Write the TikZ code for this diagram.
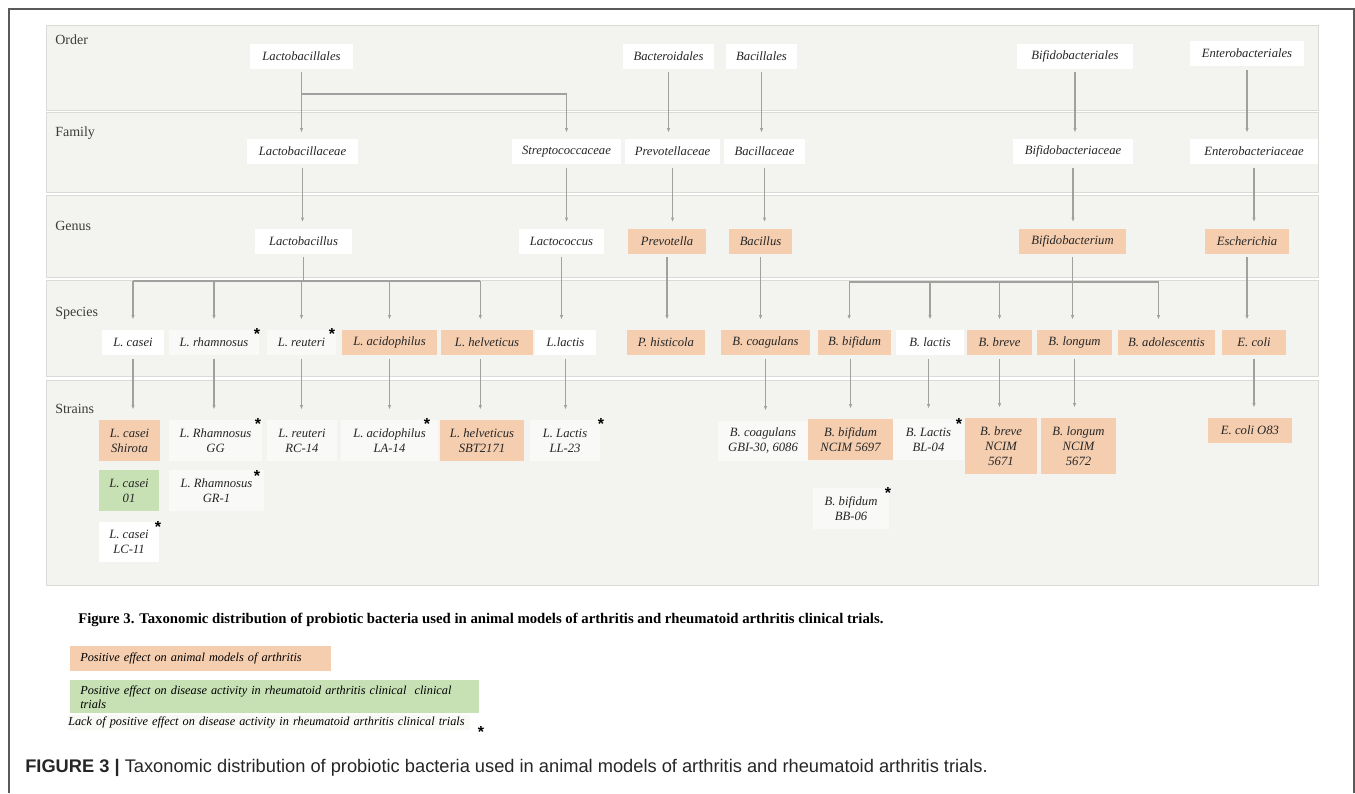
\documentclass[tikz,border=0pt]{standalone}
\usepackage{xcolor}
\usepackage{fontspec}
\usepackage{tikz}
\usetikzlibrary{arrows.meta}
\setmainfont{Liberation Serif}
\setsansfont{Liberation Sans}

\definecolor{peach}{RGB}{245,206,176}
\definecolor{clingreen}{RGB}{199,224,180}
\definecolor{panel}{RGB}{243,243,239}
\definecolor{bandline}{RGB}{218,218,214}
\definecolor{offwhite}{RGB}{249,249,248}
\definecolor{lackbg}{RGB}{248,249,245}
\definecolor{linkgray}{RGB}{160,160,160}
\definecolor{rankgray}{RGB}{60,60,60}
\definecolor{framegray}{RGB}{90,90,90}

\begin{document}
\begin{tikzpicture}[x=0.75pt,y=0.75pt,yscale=-1,xscale=1,
  taxon/.style={fill=white, inner sep=0.75pt, minimum height=18.75pt, align=center, text=black!85, font=\itshape\fontsize{9.5}{11.3}\selectfont},
  animal/.style={taxon, fill=peach},
  clinical/.style={taxon, fill=clingreen},
  pale/.style={taxon, fill=offwhite},
  band/.style={fill=panel, draw=bandline, line width=0.75pt},
  rank/.style={anchor=west, inner sep=0.75pt, text=rankgray, font=\fontsize{10.5}{12}\selectfont},
  link/.style={draw=linkgray, line width=1pt, -{Latex[length=3.5pt,width=2.5pt]}, shorten <=2.5pt, shorten >=4.5pt},
  drop/.style={link, shorten <=0pt, shorten >=7.5pt},
  bar/.style={draw=linkgray, line width=1.3pt},
  lackmark/.style={inner sep=0pt, font=\sffamily\bfseries\fontsize{12}{12}\selectfont},
  legend/.style={anchor=north west, inner xsep=7.5pt, inner ysep=0pt, align=left, font=\itshape\fontsize{9.2}{12}\selectfont}]
\path[use as bounding box] (0,0) rectangle (1355,793);

%Frame
\draw [color=framegray, line width=1pt] (9,793) -- (9,9) -- (1354,9) -- (1354,793) ;

%Shape: Rank bands
\draw [band] (46,25) rectangle (1318,110) ;
\draw [band] (46,112) rectangle (1318,192) ;
\draw [band] (46,195) rectangle (1318,277) ;
\draw [band] (46,280) rectangle (1318,376) ;
\draw [band] (46,380) rectangle (1318,585) ;

% Rank labels
\node (order) [rank] at (54,40) {Order};
\node (family) [rank] at (54,133) {Family};
\node (genus) [rank] at (54,226) {Genus};
\node (species) [rank] at (54,313) {Species};
\node (strains) [rank] at (54,409) {Strains};

% Order
\node (lbales) [taxon, minimum width=77.25pt] at (301.5,56) {Lactobacillales};
\node (bdales) [taxon, minimum width=68.25pt] at (668.5,56) {Bacteroidales};
\node (bales) [taxon, minimum width=53.25pt] at (761.5,56) {Bacillales};
\node (bifales) [taxon, minimum width=87pt] at (1075,56) {Bifidobacteriales};
\node (entales) [taxon, minimum width=85.5pt] at (1247,53.5) {Enterobacteriales};

% Family
\node (lbceae) [taxon, minimum width=83.25pt] at (302.5,151.5) {Lactobacillaceae};
\node (stceae) [taxon, minimum width=81.75pt] at (566.5,151.5) {Streptococcaceae};
\node (prceae) [taxon, minimum width=71.25pt] at (672.5,151.5) {Prevotellaceae};
\node (bceae) [taxon, minimum width=60.75pt] at (764.5,151.5) {Bacillaceae};
\node (bifceae) [taxon, minimum width=90pt] at (1073,151.5) {Bifidobacteriaceae};
\node (entceae) [taxon, minimum width=96pt] at (1254,151.5) {Enterobacteriaceae};

% Genus
\node (lbacillus) [taxon, minimum width=72.75pt] at (303.5,241) {Lactobacillus};
\node (lcoccus) [taxon, minimum width=63.75pt] at (561.5,241) {Lactococcus};
\node (prevotella) [animal, minimum width=58.5pt] at (667,241) {Prevotella};
\node (bacillus) [animal, minimum width=47.25pt] at (760.5,241) {Bacillus};
\node (bifido) [animal, minimum width=80.25pt] at (1072.5,241) {Bifidobacterium};
\node (escher) [animal, minimum width=63pt] at (1247,241) {Escherichia};

% Species
\node (lcasei) [taxon, minimum width=46.5pt] at (133,342.5) {L. casei};
\node (lrham) [pale, minimum width=67.5pt] at (214,342.5) {L. rhamnosus};
\node (lreut) [pale, minimum width=51.75pt] at (301.5,342.5) {L. reuteri};
\node (lacid) [animal, minimum width=71.25pt] at (389.5,342.5) {L. acidophilus};
\node (lhelv) [animal, minimum width=69pt] at (487,342.5) {L. helveticus};
\node (llactis) [taxon, minimum width=45.75pt] at (565.5,342.5) {L.lactis};
\node (phist) [animal, minimum width=58.5pt] at (666,342.5) {P. histicola};
\node (bcoag) [animal, minimum width=66.75pt] at (765.5,342.5) {B. coagulans};
\node (bbif) [animal, minimum width=54.75pt] at (854.5,342.5) {B. bifidum};
\node (blact) [taxon, minimum width=51pt] at (930,342.5) {B. lactis};
\node (bbrev) [animal, minimum width=48.75pt] at (999.5,342.5) {B. breve};
\node (blong) [animal, minimum width=56.25pt] at (1074.5,342.5) {B. longum};
\node (badol) [animal, minimum width=72.75pt] at (1166.5,342.5) {B. adolescentis};
\node (ecoli) [animal, minimum width=48pt] at (1254,342.5) {E. coli};

% Strains
\node (shirota) [animal, minimum width=45.75pt, minimum height=30.75pt] at (129.5,440.5) {L. casei\\Shirota};
\node (casei01) [clinical, minimum width=45pt, minimum height=30.75pt] at (129,490.5) {L. casei\\01};
\node (lc11) [taxon, minimum width=45pt, minimum height=30pt] at (129,542) {L. casei\\LC-11};
\node (rgg) [pale, minimum width=69.75pt, minimum height=30.75pt] at (215.5,440.5) {L. Rhamnosus\\GG};
\node (rgr1) [pale, minimum width=71.25pt, minimum height=30.75pt] at (216.5,490.5) {L. Rhamnosus\\GR-1};
\node (rc14) [pale, minimum width=52.5pt, minimum height=30.75pt] at (302,440.5) {L. reuteri\\RC-14};
\node (la14) [pale, minimum width=72.75pt, minimum height=30.75pt] at (389.5,440.5) {L. acidophilus\\LA-14};
\node (sbt) [animal, minimum width=63pt, minimum height=30.75pt] at (482,440.5) {L. helveticus\\SBT2171};
\node (ll23) [pale, minimum width=52.5pt, minimum height=30.75pt] at (565,440.5) {L. Lactis\\LL-23};
\node (gbi) [pale, minimum width=67.5pt, minimum height=30pt] at (763,441) {B. coagulans\\GBI-30, 6086};
\node (ncim97) [animal, minimum width=63.75pt, minimum height=30.75pt] at (850.5,439.5) {B. bifidum\\NCIM 5697};
\node (bl04) [pale, minimum width=53.25pt, minimum height=30.75pt] at (928.5,439.5) {B. Lactis\\BL-04};
\node (ncim71) [animal, minimum width=54pt, minimum height=42pt] at (1001,446) {B. breve\\NCIM\\5671};
\node (ncim72) [animal, minimum width=56.25pt, minimum height=42pt] at (1078.5,446) {B. longum\\NCIM\\5672};
\node (o83) [animal, minimum width=63pt] at (1250,430.5) {E. coli O83};
\node (bb06) [pale, minimum width=57pt, minimum height=30.75pt] at (851,508.5) {B. bifidum\\BB-06};

% Lack of effect marks
\node (mkrham) [lackmark] at (257,334) {*};
\node (mkreut) [lackmark] at (332,334) {*};
\node (mkgg) [lackmark] at (258,424) {*};
\node (mkgr1) [lackmark] at (257,476) {*};
\node (mklc11) [lackmark] at (158,527) {*};
\node (mkla14) [lackmark] at (427,424) {*};
\node (mkll23) [lackmark] at (601,424) {*};
\node (mkbl04) [lackmark] at (959,424) {*};
\node (mkbb06) [lackmark] at (888,493) {*};

% Order to family
\coordinate (lbfork) at (301.5,94);
\draw [link] (lbales.south) -- (lbales.south |- lbceae.north) ;
\draw [link, shorten <=0pt] (lbales.south |- lbfork) -| (stceae.north) ;
\draw [link] (bdales.south) -- (bdales.south |- prceae.north) ;
\draw [link] (bales.south) -- (bales.south |- bceae.north) ;
\draw [link] (bifales.south) -- (bifales.south |- bifceae.north) ;
\draw [link] (entales.south) -- (entales.south |- entceae.north) ;

% Family to genus
\draw [link] (lbceae.south) -- (lbceae.south |- lbacillus.north) ;
\draw [link] (stceae.south) -- (stceae.south |- lcoccus.north) ;
\draw [link] (prceae.south) -- (prceae.south |- prevotella.north) ;
\draw [link] (bceae.south) -- (bceae.south |- bacillus.north) ;
\draw [link] (bifceae.south) -- (bifceae.south |- bifido.north) ;
\draw [link] (entceae.south) -- (entceae.south |- escher.north) ;

% Genus to species
\coordinate (lbbar) at (301.5,281);
\draw [bar, shorten <=2.5pt] (lbacillus.south) -- (lbacillus.south |- lbbar) ;
\draw [bar] (lcasei |- lbbar) -- ([xshift=-5pt]lhelv.north |- lbbar) ;
\draw [drop] (lcasei |- lbbar) -- (lcasei.north) ;
\draw [drop] (lrham |- lbbar) -- (lrham.north) ;
\draw [drop] (lreut |- lbbar) -- (lreut.north) ;
\draw [drop] (lacid |- lbbar) -- (lacid.north) ;
\draw [drop] ([xshift=-5pt]lhelv.north |- lbbar) -- ([xshift=-5pt]lhelv.north) ;
\draw [link, shorten >=7.5pt] (lcoccus.south) -- (lcoccus.south |- llactis.north) ;
\draw [link, shorten >=7.5pt] (prevotella.south) -- (prevotella.south |- phist.north) ;
\draw [link, shorten >=7.5pt] (bacillus.south) -- (bacillus.south |- bcoag.north) ;
\coordinate (bfbar) at (1072.5,282);
\draw [bar, shorten <=2.5pt] (bifido.south) -- (bifido.south |- bfbar) ;
\draw [bar] ([xshift=-4pt]bbif.north |- bfbar) -- ([xshift=-6pt]badol.north |- bfbar) ;
\draw [drop] ([xshift=-4pt]bbif.north |- bfbar) -- ([xshift=-4pt]bbif.north) ;
\draw [drop] (blact |- bfbar) -- (blact.north) ;
\draw [drop] (bbrev |- bfbar) -- (bbrev.north) ;
\draw [drop] (bifido.south |- bfbar) -- (bifido.south |- blong.north) ;
\draw [drop] ([xshift=-6pt]badol.north |- bfbar) -- ([xshift=-6pt]badol.north) ;
\draw [link, shorten >=7.5pt] (escher.south) -- (escher.south |- ecoli.north) ;

% Species to strains
\draw [link, shorten >=7.5pt] (lcasei.south) -- (lcasei.south |- shirota.north) ;
\draw [link, shorten >=7.5pt] (lrham.south) -- (lrham.south |- rgg.north) ;
\draw [link, shorten >=7.5pt] (lreut.south) -- (lreut.south |- rc14.north) ;
\draw [link, shorten >=7.5pt] (lacid.south) -- (lacid.south |- la14.north) ;
\draw [link, shorten >=7.5pt] ([xshift=-5pt]lhelv.south) -- ([xshift=-5pt]lhelv.south |- sbt.north) ;
\draw [link, shorten >=7.5pt] (llactis.south) -- (llactis.south |- ll23.north) ;
\draw [link, shorten >=7.5pt] (bcoag.south) -- (bcoag.south |- gbi.north) ;
\draw [link, shorten >=7.5pt] (ncim97.north |- bbif.south) -- (ncim97.north) ;
\draw [link, shorten >=7.5pt] (bl04.north |- blact.south) -- (bl04.north) ;
\draw [link, shorten >=7.5pt] (bbrev.south) -- (bbrev.south |- ncim71.north) ;
\draw [link, shorten >=7.5pt] (blong.south) -- (blong.south |- ncim72.north) ;
\draw [link, shorten >=7.5pt] (ecoli.south) -- (ecoli.south |- o83.north) ;

% Text Node
\node (figtitle) [anchor=west, inner sep=0pt, font=\bfseries\fontsize{11.05}{13}\selectfont] at (78,620) {Figure 3. Taxonomic distribution of probiotic bacteria used in animal models of arthritis and rheumatoid arthritis clinical trials.};
% Legend
\node (legpos) [legend, fill=peach, text width=180.75pt, minimum height=18.75pt] at (70,646) {Positive effect on animal models of arthritis};
\node (legclin) [legend, fill=clingreen, text width=291.75pt, minimum height=24.75pt, inner ysep=1.5pt] at (70,680) {Positive effect on disease activity in rheumatoid arthritis clinical~ clinical\\[-1.5pt]trials};
\node (leglack) [legend, fill=lackbg, inner xsep=0pt, text width=301.5pt, minimum height=11pt] at (68,715) {Lack of positive effect on disease activity in rheumatoid arthritis clinical trials};
\node (mklegend) [lackmark] at (481,732) {*};
% Caption
\node (figcap) [anchor=west, inner sep=0pt, text=black!85, font=\sffamily\fontsize{13.7}{16}\selectfont] at (25,768) {\textbf{FIGURE 3 |} Taxonomic distribution of probiotic bacteria used in animal models of arthritis and rheumatoid arthritis trials.};

\end{tikzpicture}
\end{document}
